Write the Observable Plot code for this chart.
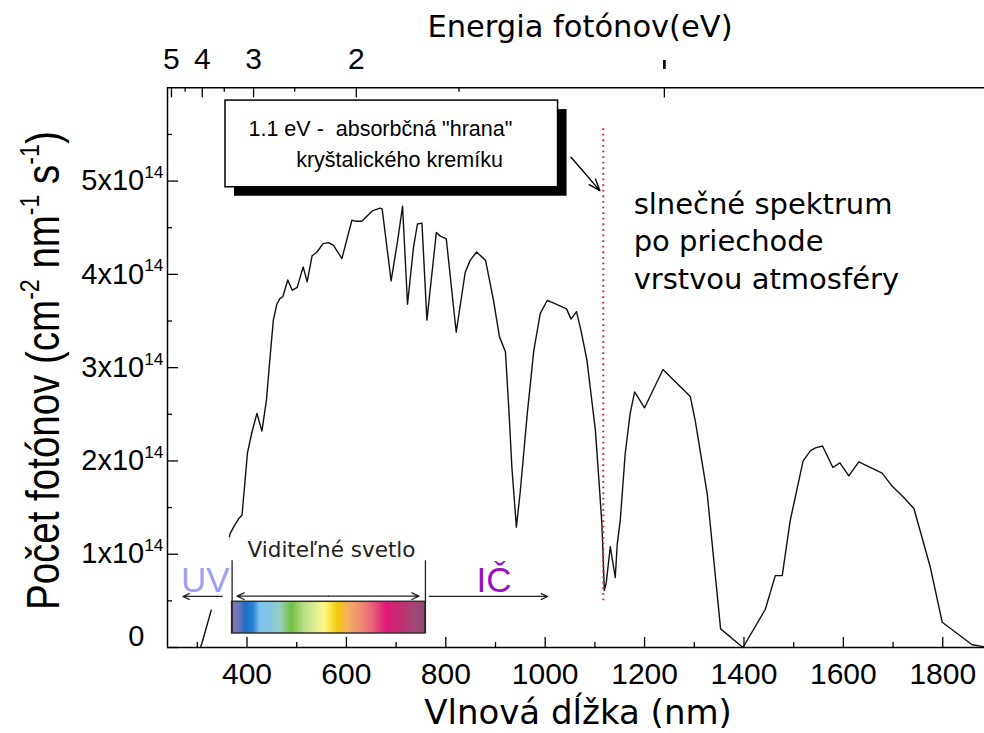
<!DOCTYPE html>
<html>
<head>
<meta charset="utf-8">
<script src="https://cdn.jsdelivr.net/npm/d3@7"></script>
<script src="https://cdn.jsdelivr.net/npm/@observablehq/plot@0.6"></script>
<style>
  html, body { margin: 0; padding: 0; background: #fff; }
  svg { display: block; }
</style>
</head>
<body>
<div id="chart"></div>
<script>
// Solar photon spectrum after passing through the atmosphere
// photon flux in units of 10^14 photons cm^-2 nm^-1 s^-1
const wavelength = [
  306, 309, 327, 366, 373, 383, 390, 401, 410, 420, 430, 439, 447, 453, 460, 466, 472,
  482, 491, 501, 513, 521, 531, 541, 553, 564, 574, 591, 611, 618, 631, 652, 668, 672,
  690, 703, 713, 723, 735, 743, 752, 762, 781, 789, 801, 821, 839, 849, 862, 880, 896,
  908, 920, 927, 933, 942, 950, 964, 977, 990, 1004, 1014, 1043, 1052, 1063, 1072, 1084,
  1101, 1110, 1114, 1116, 1119, 1123, 1131, 1141, 1145, 1151, 1161, 1171, 1180, 1200,
  1237, 1292, 1302, 1326, 1353, 1398, 1443, 1463, 1477, 1493, 1519, 1534, 1544, 1558,
  1579, 1593, 1611, 1631, 1654, 1678, 1698, 1721, 1742, 1775, 1799, 1859, 1882
];
const photonFlux = [
  0.00, 0.04, 0.38, 1.22, 1.29, 1.38, 1.42, 2.09, 2.31, 2.51, 2.32, 2.65, 3.15, 3.51, 3.68, 3.74, 3.76,
  3.94, 3.83, 3.86, 4.08, 3.92, 4.20, 4.24, 4.33, 4.34, 4.31, 4.17, 4.58, 4.57, 4.57, 4.68, 4.71, 4.70,
  3.93, 4.36, 4.73, 3.68, 4.29, 4.54, 4.55, 3.51, 4.45, 4.41, 4.38, 3.38, 4.02, 4.15, 4.24, 4.15, 3.72,
  3.33, 3.17, 2.54, 1.93, 1.29, 1.68, 2.51, 3.18, 3.58, 3.72, 3.70, 3.63, 3.52, 3.60, 3.40, 3.08,
  2.33, 1.65, 1.33, 1.06, 0.61, 0.70, 1.08, 0.75, 1.11, 1.36, 2.08, 2.51, 2.74, 2.57,
  2.98, 2.69, 2.43, 1.65, 0.20, 0.00, 0.41, 0.77, 0.77, 1.36, 2.00, 2.11, 2.14, 2.16,
  1.93, 1.98, 1.84, 1.99, 1.93, 1.87, 1.73, 1.61, 1.49, 0.86, 0.27, 0.03, 0.01
];

const xMajorTicks = [400, 600, 800, 1000, 1200, 1400, 1600, 1800];
const xMinorTicks = [300, 500, 700, 900, 1100, 1300, 1500, 1700];
const yMajorTicks = [0, 1, 2, 3, 4, 5];
const yMinorTicks = [0.5, 1.5, 2.5, 3.5, 4.5, 5.5];
const yExponent = 14;
const energyMajorTicks = [5, 4, 3, 2, 1];
const energyMinorTicks = [4.5, 3.5, 2.5, 1.5];
const energyLabels = [5, 4, 3, 2];
const siBandGap = 1.11;          // eV
const visibleRange = [370, 759]; // nm
const hc = 1239.8;               // eV·nm
const spectrumStops = [
  [0.00, "#8a7ab2"], [0.04, "#6a72ba"], [0.07, "#1a6fc2"], [0.11, "#2a82d2"],
  [0.145, "#7cc4f0"], [0.20, "#86c4e0"], [0.25, "#96d0c0"], [0.31, "#72c040"],
  [0.37, "#b8dc84"], [0.45, "#e8f294"], [0.48, "#fff880"], [0.55, "#f6c808"],
  [0.60, "#f2b060"], [0.66, "#f09070"], [0.73, "#e86078"], [0.80, "#e01878"],
  [0.88, "#c03070"], [0.95, "#a04878"], [1.00, "#904870"]
];

const spectrum = wavelength.map((w, i) => ({wavelength: w, flux: photonFlux[i]}));

const W = 984, H = 733, MT = 87.3, MB = 86, ML = 167, MR = 0;
const FW = W - ML - MR, FH = H - MT - MB;
const sans = "Liberation Sans, Arial, Helvetica, sans-serif";
const wide = "DejaVu Sans, Verdana, sans-serif";
const yTitle = "Počet fotónov (cm^{-2} nm^{-1} s^{-1})";

const chart = Plot.plot({
  width: W, height: H,
  marginTop: MT, marginBottom: MB, marginLeft: ML, marginRight: MR,
  x: {domain: [240, 1884], axis: null},
  y: {domain: [0, 6], axis: null},
  style: {fontFamily: sans, background: "#fff", color: "#000", overflow: "visible"},
  marks: [
    () => {
      const defs = d3.create("svg:defs");
      const g = defs.append("linearGradient").attr("id", "visible-spectrum")
        .attr("x1", "0").attr("x2", "1").attr("y1", "0").attr("y2", "0");
      spectrumStops.forEach(([o, c]) => g.append("stop").attr("offset", o).attr("stop-color", c));
      return defs.node();
    },
    // frame lines
    Plot.ruleY([0, 6], {stroke: "#000", strokeWidth: 1.5}),
    Plot.ruleX([240], {stroke: "#000", strokeWidth: 1.5}),
    // bottom ticks (inward)
    Plot.ruleX(xMajorTicks, {insetTop: FH - 10, stroke: "#000", strokeWidth: 1.3}),
    Plot.ruleX(xMinorTicks, {insetTop: FH - 5, stroke: "#000", strokeWidth: 1.3}),
    Plot.text(xMajorTicks, {x: d => d, text: d => String(d), frameAnchor: "bottom", textAnchor: "middle", dy: 14.7, lineAnchor: "top", fontSize: 30, fontFamily: sans}),
    // left ticks
    Plot.ruleY(yMajorTicks, {insetRight: FW - 11, stroke: "#000", strokeWidth: 1.3}),
    Plot.ruleY(yMinorTicks, {insetRight: FW - 5, stroke: "#000", strokeWidth: 1.3}),
    Plot.text(yMajorTicks.filter(d => d > 0), {y: d => d, text: d => `${d}x10^{${yExponent}}`, frameAnchor: "left", textAnchor: "end", dx: -4, lineAnchor: "middle", fontSize: 29, fontFamily: sans}),
    Plot.text(yMajorTicks.filter(d => d === 0), {y: d => d, text: d => `${d}`, frameAnchor: "left", textAnchor: "end", dx: -23, dy: -11, lineAnchor: "middle", fontSize: 29, fontFamily: sans}),
    // top energy ticks
    Plot.ruleX(energyMajorTicks, {x: e => hc / e, insetBottom: FH - 10, stroke: "#000", strokeWidth: 1.3}),
    Plot.ruleX(energyMinorTicks, {x: e => hc / e, insetBottom: FH - 4.5, stroke: "#000", strokeWidth: 1.3}),
    Plot.text(energyLabels, {x: e => hc / e, text: e => String(e), frameAnchor: "top", textAnchor: "middle", dy: -19, lineAnchor: "bottom", fontSize: 30, fontFamily: sans}),
    Plot.ruleX([1], {x: e => hc / e, insetTop: -27.3, insetBottom: 578, stroke: "#000", strokeWidth: 2.6}),
    // axis titles
    Plot.text(["Energia fotónov(eV)"], {frameAnchor: "top", textAnchor: "middle", dx: 4, dy: -50.6, lineAnchor: "bottom", fontSize: 30.5, fontFamily: wide}),
    Plot.text(["Vlnová dĺžka (nm)"], {frameAnchor: "bottom", textAnchor: "middle", dx: 2, dy: 76.3, lineAnchor: "bottom", fontSize: 34, fontFamily: wide}),
    Plot.text([yTitle], {frameAnchor: "left", textAnchor: "middle", rotate: -90, dx: -109, dy: 3, lineAnchor: "bottom", fontSize: 38.5, fontFamily: sans}),
    // spectrum curve
    Plot.line(spectrum, {x: "wavelength", y: "flux", stroke: "#111", strokeWidth: 1.4}),
    // silicon absorption edge
    Plot.ruleX([siBandGap], {x: e => hc / e, y1: 0.5, y2: 5.6, stroke: "#e82020", strokeWidth: 2, strokeDasharray: "1.8 3.8"}),
    // UV label background
    Plot.rect([0], {x1: 266, x2: 366, y1: 0.40, y2: 1.18, fill: "#fff"}),
    // visible spectrum bar + bracket
    Plot.rect([visibleRange], {x1: d => d[0], x2: d => d[1], y1: 0.15, y2: 0.49, fill: "url(#visible-spectrum)", stroke: "#333", strokeWidth: 1.5}),
    Plot.ruleX(visibleRange, {y1: 0.15, y2: 0.93, stroke: "#222", strokeWidth: 1.3}),
    Plot.arrow([visibleRange], {x1: d => (d[0] + d[1]) / 2, x2: d => d[0] + 10, y1: 0.55, y2: 0.55, stroke: "#222", strokeWidth: 1.3, headLength: 9, headAngle: 50}),
    Plot.arrow([visibleRange], {x1: d => (d[0] + d[1]) / 2, x2: d => d[1] - 13, y1: 0.55, y2: 0.55, stroke: "#222", strokeWidth: 1.3, headLength: 9, headAngle: 50}),
    Plot.text(["Viditeľné svetlo"], {x: 570, y: 0.975, textAnchor: "middle", lineAnchor: "bottom", fontSize: 21.5, fontFamily: wide, fill: "#222"}),
    Plot.arrow([0], {x1: 350, x2: 271, y1: 0.547, y2: 0.547, stroke: "#222", strokeWidth: 1.3, headLength: 8, headAngle: 50}),
    Plot.text(["UV"], {x: 316, y: 0.593, textAnchor: "middle", lineAnchor: "bottom", fontSize: 35, fontFamily: sans, fill: "#9f9ff5"}),
    Plot.arrow([0], {x1: 767, x2: 1005, y1: 0.547, y2: 0.547, stroke: "#222", strokeWidth: 1.3, headLength: 8, headAngle: 50}),
    Plot.text(["IČ"], {x: 897, y: 0.593, textAnchor: "middle", lineAnchor: "bottom", fontSize: 35, fontFamily: sans, fill: "#9a10c8"}),
    // callout box
    Plot.rect([0], {x1: 356.7, x2: 1025.9, y1: 4.934, y2: 5.863, fill: "#000", dx: 9, dy: 9}),
    Plot.rect([0], {x1: 356.7, x2: 1025.9, y1: 4.934, y2: 5.863, fill: "#fff", stroke: "#000", strokeWidth: 1.5}),
    Plot.text(["1.1 eV -  absorbčná \"hrana\""], {x: 403, y: 5.488, textAnchor: "start", lineAnchor: "bottom", fontSize: 21.5, fontFamily: sans}),
    Plot.text(["kryštalického kremíku"], {x: 499, y: 5.155, textAnchor: "start", lineAnchor: "bottom", fontSize: 21.5, fontFamily: sans}),
    Plot.arrow([0], {x1: 1052, y1: 5.255, x2: 1110, y2: 4.898, stroke: "#000", strokeWidth: 1.4, headLength: 13, headAngle: 40}),
    Plot.text(["slnečné spektrum\npo priechode\nvrstvou atmosféry"], {x: 1178, y: 3.845, textAnchor: "start", lineAnchor: "bottom", lineHeight: 1.29, fontSize: 29, fontFamily: wide})
  ]
});

document.getElementById("chart").appendChild(chart);

// turn ^{...} markup into superscript tspans
d3.select(chart).selectAll("text").each(function () {
  const t = this.textContent;
  if (!t.includes("^{")) return;
  const isTitle = t === yTitle;
  const fs = parseFloat(getComputedStyle(this).fontSize) || 16;
  const parts = t.split(/\^\{([^}]*)\}/);
  const sel = d3.select(this);
  sel.text(null);
  let raised = false;
  const shift = fs * 0.42;
  parts.forEach((p, i) => {
    if (p === "") return;
    const ts = sel.append("tspan").text(p);
    if (i % 2 === 1) {
      ts.attr("font-size", fs * 0.6).attr("dy", raised ? 0 : -shift);
      raised = true;
    } else if (raised) {
      ts.attr("dy", shift);
      raised = false;
    }
  });
  // the reference's rotated title has thicker (wider) glyphs
  if (isTitle) sel.attr("transform", (sel.attr("transform") || "") + " scale(1,1.2)");
});
</script>
</body>
</html>
